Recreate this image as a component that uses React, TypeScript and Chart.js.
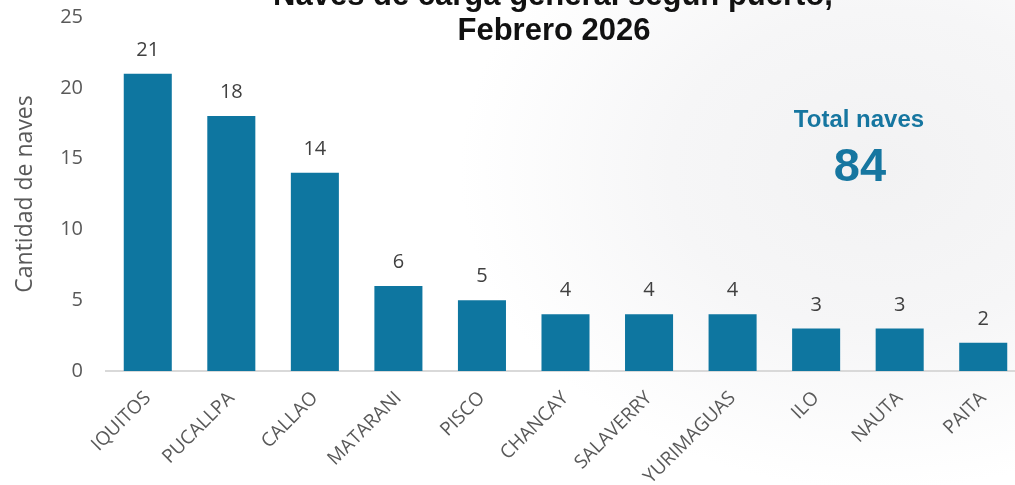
import React, { useEffect, useRef } from "react";
import { Chart, registerables } from "chart.js";

Chart.register(...registerables);

const categories = ["IQUITOS", "PUCALLPA", "CALLAO", "MATARANI", "PISCO", "CHANCAY", "SALAVERRY", "YURIMAGUAS", "ILO", "NAUTA", "PAITA"];
const naves = [21, 18, 14, 6, 5, 4, 4, 4, 3, 3, 2];
const titleLines = ["Naves de carga general según puerto,", "Febrero 2026"];
const totalLabel = "Total naves";
const totalValue = "84";
const yTitle = "Cantidad de naves";

const BAR = "#0E76A0";
const ACCENT = "#1676A0";
const GRAY = "#595959";

const overlayPlugin = {
  id: "overlay",
  afterDatasetsDraw(chart: any) {
    const ctx = chart.ctx;
    const meta = chart.getDatasetMeta(0);
    ctx.save();
    ctx.fillStyle = "#404040";
    ctx.font = "20px 'Open Sans'";
    ctx.textAlign = "center";
    ctx.textBaseline = "alphabetic";
    meta.data.forEach((bar: any, i: number) => {
      ctx.fillText(String(naves[i]), bar.x, bar.y - 18);
    });
    ctx.fillStyle = "#111111";
    ctx.font = "bold 31px 'Liberation Sans', Arial";
    ctx.fillText(titleLines[0], 553, 5);
    ctx.fillText(titleLines[1], 554, 40);
    ctx.fillStyle = ACCENT;
    ctx.font = "bold 24px 'Liberation Sans', Arial";
    ctx.fillText(totalLabel, 859, 127);
    ctx.font = "bold 47px 'Liberation Sans', Arial";
    ctx.fillText(totalValue, 860, 181);
    ctx.restore();
  },
};

export default function App() {
  const ref = useRef<HTMLCanvasElement>(null);
  useEffect(() => {
    document.body.style.margin = "0";
    document.body.style.overflow = "hidden";
    const chart = new Chart(ref.current!, {
      type: "bar",
      data: {
        labels: categories,
        datasets: [
          {
            data: naves,
            backgroundColor: BAR,
            categoryPercentage: 1,
            barPercentage: 0.575,
          },
        ],
      },
      plugins: [overlayPlugin],
      options: {
        responsive: false,
        animation: false,
        devicePixelRatio: 1,
        layout: { padding: { top: 17, right: 0, left: 0, bottom: 0 } },
        plugins: { legend: { display: false }, tooltip: { enabled: false }, title: { display: false } },
        scales: {
          x: {
            grid: { display: false, drawTicks: false },
            border: { display: true, color: "#D9D9D9", width: 2 },
            ticks: {
              color: GRAY,
              font: { family: "'Open Sans'", size: 19 },
              minRotation: 45,
              maxRotation: 45,
              padding: 16,
              autoSkip: false,
            },
            afterFit: (s: any) => {
              s.height = 114;
              s.paddingLeft = 0;
              s.paddingRight = 0;
            },
          },
          y: {
            min: 0,
            max: 25,
            grid: { display: false, drawTicks: false },
            border: { display: false },
            ticks: {
              stepSize: 5,
              color: GRAY,
              font: { family: "'Open Sans'", size: 20 },
              padding: 23,
            },
            title: {
              display: true,
              text: yTitle,
              color: GRAY,
              font: { family: "'Open Sans'", size: 23 },
              padding: { top: 12, bottom: 0 },
            },
            afterFit: (s: any) => {
              s.width = 106;
              s.paddingTop = 0;
              s.paddingBottom = 0;
            },
          },
        },
      },
    });
    return () => chart.destroy();
  }, []);
  return (
    <div
      style={{
        position: "absolute",
        left: 0,
        top: 0,
        width: 1015,
        height: 485,
        overflow: "hidden",
        background:
          "radial-gradient(ellipse 420px 320px at 880px 170px, #f2f2f3 0%, #f6f6f7 50%, rgba(255,255,255,0) 100%), #ffffff",
      }}
    >
      <canvas ref={ref} width={1025} height={485} style={{ display: "block" }} />
    </div>
  );
}
